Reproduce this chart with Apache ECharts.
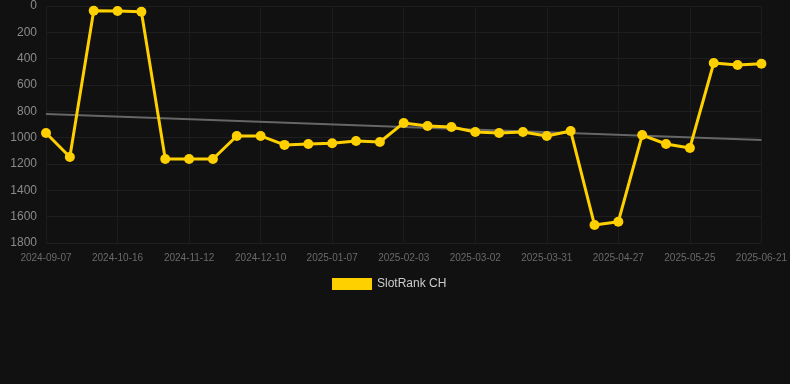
<!DOCTYPE html>
<html>
<head>
<meta charset="utf-8">
<script src="https://cdn.jsdelivr.net/npm/echarts@6/dist/echarts.min.js"></script>
<style>
  html, body { margin: 0; padding: 0; background: #111111; }
  #main { width: 790px; height: 384px; }
</style>
</head>
<body>
<div id="main"></div>
<script>
// 日期（只有每隔3个的标签能看到）
const dates = [
    '2024-09-07', '2024-09-20', '2024-10-03', '2024-10-16', '2024-10-25', '2024-11-03',
    '2024-11-12', '2024-11-21', '2024-12-01', '2024-12-10', '2024-12-19', '2024-12-29',
    '2025-01-07', '2025-01-16', '2025-01-25', '2025-02-03', '2025-02-12', '2025-02-21',
    '2025-03-02', '2025-03-12', '2025-03-21', '2025-03-31', '2025-04-09', '2025-04-18',
    '2025-04-27', '2025-05-06', '2025-05-15', '2025-05-25', '2025-06-03', '2025-06-12',
    '2025-06-21'
];

// 排名
const rankCH = [
    965, 1147, 36, 38, 43, 1162, 1162, 1162, 987, 987, 1055, 1048, 1043, 1025, 1033,
    888, 911, 919, 957, 964, 957, 987, 949, 1663, 1638, 980, 1048, 1078, 433, 448, 438
];

// 趋势线两端
const trendStart = 820;
const trendEnd = 1017;
const trendData = [[dates[0], trendStart], [dates[dates.length - 1], trendEnd]];

const chart = echarts.init(document.getElementById('main'));

const option = {
    backgroundColor: '#111111',
    animation: false,
    grid: {
        left: 46,
        right: 28,
        top: 6,
        bottom: 141
    },
    legend: {
        data: [{name: 'SlotRank CH', icon: 'rect'}],
        top: 273,
        left: 327,
        itemWidth: 40,
        itemHeight: 12,
        itemGap: 10,
        textStyle: {color: '#cccccc', fontSize: 12, fontFamily: 'Liberation Sans'}
    },
    xAxis: {
        type: 'category',
        data: dates,
        boundaryGap: false,
        axisTick: {show: false},
        axisLine: {show: false},
        axisLabel: {
            interval: 2,
            color: '#6a6a6a',
            fontSize: 10,
            margin: 10,
            fontFamily: 'Liberation Sans'
        },
        splitLine: {show: true, interval: 2, lineStyle: {color: '#1c1c1c', width: 1}}
    },
    yAxis: {
        type: 'value',
        inverse: true,
        min: 0,
        max: 1800,
        interval: 200,
        axisTick: {show: false},
        axisLine: {show: false},
        axisLabel: {
            color: '#8a8a8a',
            fontSize: 12,
            margin: 9,
            fontFamily: 'Liberation Sans',
            formatter: v => String(v)
        },
        splitLine: {lineStyle: {color: '#1e1e1e', width: 1}}
    },
    series: [{
        name: 'SlotRank CH',
        type: 'line',
        data: rankCH,
        symbol: 'circle',
        symbolSize: 10,
        lineStyle: {color: '#ffd000', width: 3},
        itemStyle: {color: '#ffd000'},
        z: 3
    }, {
        name: 'trend',
        type: 'line',
        data: trendData,
        symbol: 'none',
        lineStyle: {color: '#666666', width: 2},
        z: 2
    }]
};

chart.setOption(option);
</script>
</body>
</html>
